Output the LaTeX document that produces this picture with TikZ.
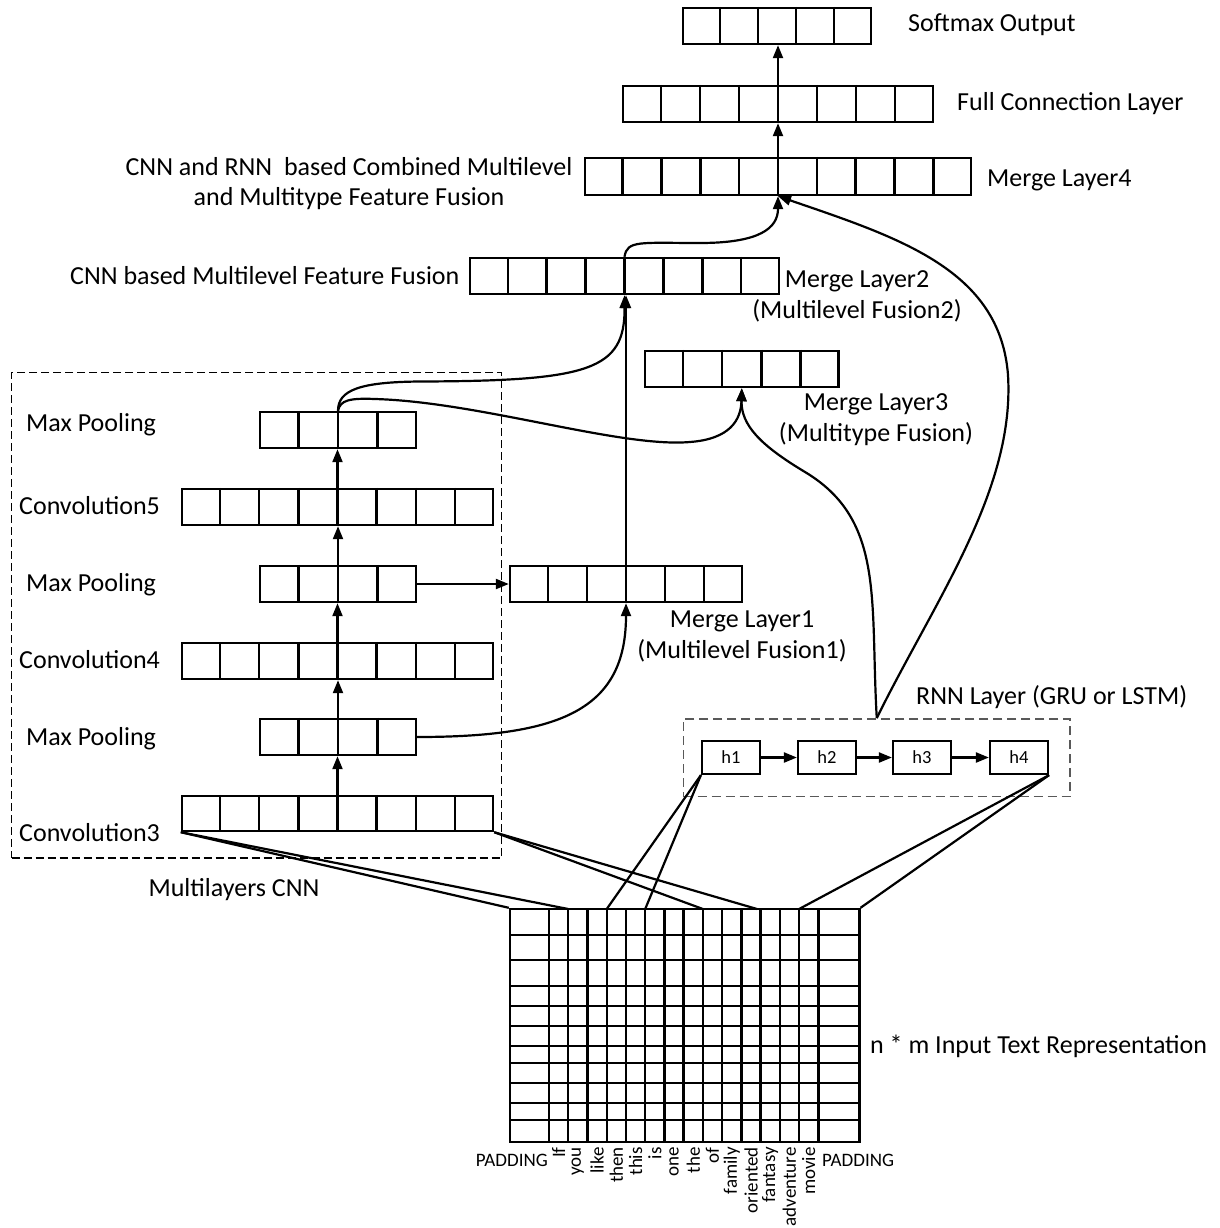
\documentclass[tikz,border=0pt]{standalone}
\usepackage{fontspec}
\setmainfont{Carlito}
\usetikzlibrary{arrows.meta,fit,calc}
\newcommand{\mklayer}[6]{%
  \node[box, fit={(#2,#3) (#4,#5)}, inner sep=0pt] (#1) {};
  \pgfmathtruncatemacro{\nmo}{#6-1}%
  \foreach \i in {1,...,\nmo}{%
    \draw[box] ($(#1.north west)!{\i/#6}!(#1.north east)$) -- ($(#1.south west)!{\i/#6}!(#1.south east)$);
  }%
}
\begin{document}
\begin{tikzpicture}[x=1pt,y=-1pt,
  box/.style={draw=black, line width=2.4pt},
  conn/.style={line width=2.2pt, draw=black},
  arr/.style={conn, -{Triangle[length=13pt,width=10pt]}},
  lbl/.style={font=\fontsize{26}{31}\selectfont, inner sep=0pt, anchor=base west},
  clbl/.style={font=\fontsize{26}{31}\selectfont, inner sep=0pt, anchor=base},
  word/.style={font=\fontsize{19}{21}\selectfont, inner sep=0pt},
  hbox/.style={draw, line width=2.2pt, minimum width=58pt, minimum height=33pt, inner sep=0pt, font=\fontsize{18.5}{20}\selectfont},
]
\useasboundingbox (0,0) rectangle (1219,1228);

% ---------- layers ----------
\mklayer{sm}{683}{8}{871}{44}{5}
\mklayer{fc}{623}{86}{933}{122}{8}
\mklayer{ml4}{585}{158}{971}{195}{10}
\mklayer{ml2}{470}{258}{779}{294}{8}
\mklayer{ml3}{645}{351}{838.6}{387}{5}
\mklayer{mpa}{260}{412}{416}{448}{4}
\mklayer{cva}{182}{489}{493}{525}{8}
\mklayer{mpb}{260}{566}{416}{602}{4}
\mklayer{ml1}{510}{566}{742}{602}{6}
\mklayer{cvb}{182}{643}{493}{679}{8}
\mklayer{mpc}{260}{719}{416}{755}{4}
\mklayer{cvc}{182}{796}{493}{831}{8}

% ---------- dashed groups ----------
\node[draw=black, dash pattern=on 8pt off 4pt, line width=1.2pt, fit={(11.7,372.7) (501.7,858)}, inner sep=0pt] (cnnbox) {};
\node[draw=black!65, dash pattern=on 9pt off 5pt, line width=1.5pt, fit={(683.5,718.8) (1070,796.6)}, inner sep=0pt] (rnn) {};

% ---------- RNN cells ----------
\node[hbox] (h1) at (731,757.5) {h1};
\node[hbox] (h2) at (827,757.5) {h2};
\node[hbox] (h3) at (922,757.5) {h3};
\node[hbox] (h4) at (1019,757.5) {h4};
\draw[arr] (h1) -- (h2);
\draw[arr] (h2) -- (h3);
\draw[arr] (h3) -- (h4);

% ---------- input matrix ----------
\node[box, fit={(510,909) (859.3,1141.7)}, inner sep=0pt] (mat) {};
\foreach \x in {549,568.24,587.47,606.71,625.94,645.18,664.42,683.65,702.89,722.12,741.36,760.6,779.83,799.07,818.3}
  \draw[box] (\x,909) -- (\x,1141.7);
\foreach \y in {935,960,986,1006,1026,1046,1063,1083,1103,1120}
  \draw[box] (510,\y) -- (859.3,\y);

\coordinate (ta) at (568.24,909);
\coordinate (tb) at (606.71,909);
\coordinate (tc) at (645.18,909);
\coordinate (td) at (702.89,909);
\coordinate (te) at (757,909);
\coordinate (tf) at (799.07,909);

\draw[conn] (cvc.south west) -- (mat.north west);
\draw[conn] (cvc.south west) -- (ta);
\draw[conn] (cvc.south east) -- (td);
\draw[conn] (cvc.south east) -- (te);
\draw[conn] (h1.south west) -- (tb);
\draw[conn] (h1.south west) -- (tc);
\draw[conn] (h4.south east) -- (tf);
\draw[conn] (h4.south east) -- (mat.north east);

% words
\node[word, anchor=base east] (pl) at (548,1166) {PADDING};
\node[word, anchor=base west] (pr) at (822,1166) {PADDING};
\foreach \w [count=\k] in {If,you,like,then,this,is,one,the,of,family,oriented,fantasy,adventure,movie}{
  \pgfmathsetmacro{\cx}{549+19.236*(\k-0.5)}
  \node[word, rotate=90, anchor=east] (w\k) at (\cx,1147) {\w};
}

% ---------- CNN stack arrows ----------
\draw[arr] (cvc.north) -- (cvc.north |- mpc.south);
\draw[arr] (mpc.north) -- (mpc.north |- cvb.south);
\draw[arr] (cvb.north) -- (cvb.north |- mpb.south);
\draw[arr] (mpb.north) -- (mpb.north |- cva.south);
\draw[arr] (cva.north) -- (cva.north |- mpa.south);
\draw[arr] (mpb.east) -- (ml1.west);
\draw[arr] (mpc.east) .. controls (560,737) and (626,710) .. (ml1.south);
\draw[arr] (ml1.north) -- (ml1.north |- ml2.south);
\draw[arr] (mpa.north) .. controls (338,390) and (360,382) .. (420,381.5) .. controls (590,381) and (625,370) .. (ml2.south);
\draw[arr] (mpa.north) .. controls (340,400) and (350,398) .. (375,399) .. controls (480,402) and (620,448) .. (690,442) .. controls (730,439) and (741,420) .. (ml3.south);
\draw[arr] (rnn.north) .. controls (870,600) and (885,520) .. (805,472) .. controls (760,445) and (741,425) .. (ml3.south);
\draw[arr] (rnn.north) .. controls (935,600) and (1015,490) .. (1008,375) .. controls (1000,270) and (900,238) .. (ml4.south);
\draw[arr] (ml2.north) .. controls (627,240) and (640,243) .. (700,243) .. controls (760,243) and (778,228) .. (ml4.south);
\draw[arr] (ml4.north) -- (ml4.north |- fc.south);
\draw[arr] (fc.north) -- (fc.north |- sm.south);

% ---------- labels ----------
\node[lbl] (lsm) at (908,32) {Softmax Output};
\node[lbl] (lfc) at (957,111) {Full Connection Layer};
\node[lbl] (lml4) at (987,186) {Merge Layer4};
\node[clbl] (lcomb1) at (349,175) {CNN and RNN\ \ based Combined Multilevel};
\node[clbl] (lcomb2) at (349,205) {and Multitype Feature Fusion};
\node[lbl] (lcnnf) at (70,284) {CNN based Multilevel Feature Fusion};
\node[clbl] (lml2a) at (857,287) {Merge Layer2};
\node[clbl] (lml2b) at (857,318) {(Multilevel Fusion2)};
\node[clbl] (lml3a) at (876,410) {Merge Layer3};
\node[clbl] (lml3b) at (876,441.5) {(Multitype Fusion)};
\node[clbl] (lml1a) at (742,627) {Merge Layer1};
\node[clbl] (lml1b) at (742,658) {(Multilevel Fusion1)};
\node[lbl] (lmpa) at (26,431) {Max Pooling};
\node[lbl] (lcva) at (19,514) {Convolution5};
\node[lbl] (lmpb) at (26,591) {Max Pooling};
\node[lbl] (lcvb) at (19,668) {Convolution4};
\node[lbl] (lmpc) at (26,745) {Max Pooling};
\node[lbl] (lcvc) at (19,841) {Convolution3};
\node[clbl] (lmcnn) at (234,896) {Multilayers CNN};
\node[lbl] (lrnn) at (916,704) {RNN Layer (GRU or LSTM)};
\node[lbl] (lin) at (870,1053) {n * m Input Text Representation};
\end{tikzpicture}
\end{document}
